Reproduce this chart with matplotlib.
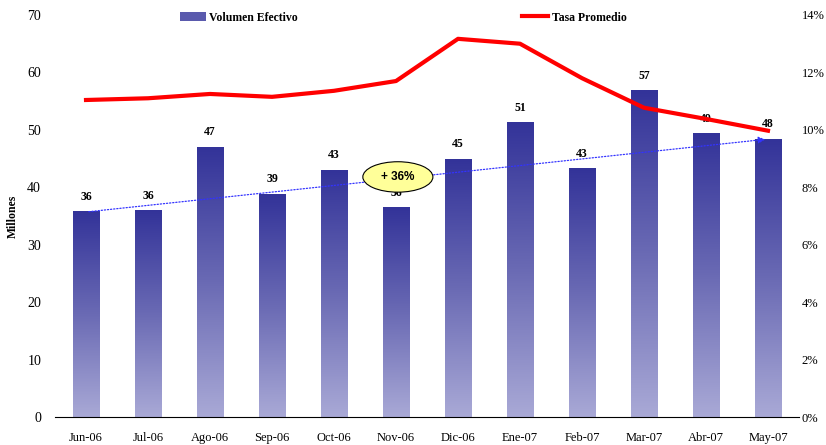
import numpy as np
import matplotlib
matplotlib.use('Agg')
import matplotlib.pyplot as plt
from matplotlib.colors import LinearSegmentedColormap
from matplotlib.patches import Ellipse, Patch
from matplotlib.lines import Line2D

meses = ['Jun-06', 'Jul-06', 'Ago-06', 'Sep-06', 'Oct-06', 'Nov-06',
         'Dic-06', 'Ene-07', 'Feb-07', 'Mar-07', 'Abr-07', 'May-07']
volumen = [35.7, 35.9, 47.0, 38.7, 42.9, 36.4, 44.9, 51.2, 43.2, 56.8, 49.3, 48.4]
tasa = [11.04, 11.10, 11.25, 11.15, 11.36, 11.70, 13.17, 13.00, 11.80, 10.77, 10.38, 9.97]
crecimiento = '+ 36%'

plt.rcParams['font.family'] = ['Liberation Serif', 'DejaVu Serif']

fig = plt.figure(figsize=(8.26, 4.45), dpi=100)
ax = fig.add_axes([0.0666, 0.0629, 0.9007, 0.9034])
ax2 = ax.twinx()

# barras con degradado
cmap = LinearSegmentedColormap.from_list('vol', ['#A9A9D6', '#6A6AB4', '#333399'])
grad = np.linspace(0, 1, 256).reshape(-1, 1)
w = 0.42
x = np.arange(len(meses))
for xi, v in zip(x, volumen):
    ax.imshow(grad, cmap=cmap, origin='lower', aspect='auto',
              extent=[xi - w/2, xi + w/2, 0, v], zorder=2)
    ax.annotate(f'{v:.0f}', (xi, v), xytext=(0, 11), textcoords='offset points',
                ha='center', va='center', fontsize=8.5, fontweight='bold', zorder=3)

ax.set_xlim(-0.5, len(meses) - 0.5)
ax.set_ylim(0, 70)
ax.set_yticks(range(0, 71, 10))
ax.set_xticks(x)
ax.set_xticklabels(meses, fontsize=9)
ax.tick_params(axis='both', length=0, labelsize=10)
ax.tick_params(axis='x', labelsize=9, pad=11)
ax.tick_params(axis='y', pad=10)
ax.set_ylabel('Millones', fontsize=8.5, fontweight='bold', labelpad=6)
for s in ['top', 'left', 'right']:
    ax.spines[s].set_visible(False)
ax.spines['bottom'].set_color('black')

# linea de tasa
ax2.plot(x, tasa, color='#FF0000', lw=3, zorder=5)
ax2.set_ylim(0, 14)
ax2.set_yticks(range(0, 15, 2))
ax2.set_yticklabels([f'{t}%' for t in range(0, 15, 2)])
ax2.tick_params(axis='y', length=0, labelsize=9, pad=2)
for s in ['top', 'left', 'right', 'bottom']:
    ax2.spines[s].set_visible(False)

# tendencia y globo
ax2.annotate('', xy=(x[-1], volumen[-1]), xytext=(x[0], volumen[0]),
             xycoords=ax.transData, textcoords=ax.transData,
             arrowprops=dict(arrowstyle='-|>', color='#3333FF', lw=0.9,
                             linestyle=(0, (1, 1.5)), mutation_scale=10),
             zorder=4)
ell = Ellipse((5.03, 41.8), 1.13, 5.3, transform=ax.transData,
              facecolor='#FFFF99', edgecolor='black', lw=0.8, zorder=6)
ax2.add_patch(ell)
ax2.text(5.03, 41.8, crecimiento, transform=ax.transData, ha='center', va='center',
         fontsize=8.5, fontweight='bold', family='Liberation Sans', zorder=7)

handles = [Patch(facecolor='#5A5AAD', edgecolor='none'),
           Line2D([0], [0], color='#FF0000', lw=3)]
leg = ax2.legend(handles, ['Volumen Efectivo', 'Tasa Promedio'], ncol=2,
                 loc='upper center', bbox_to_anchor=(0.468, 1.035), frameon=False,
                 columnspacing=19, handlelength=2.2, handletextpad=0.3,
                 prop={'size': 8.5, 'weight': 'bold'})

fig.savefig('out.png', dpi=100)
